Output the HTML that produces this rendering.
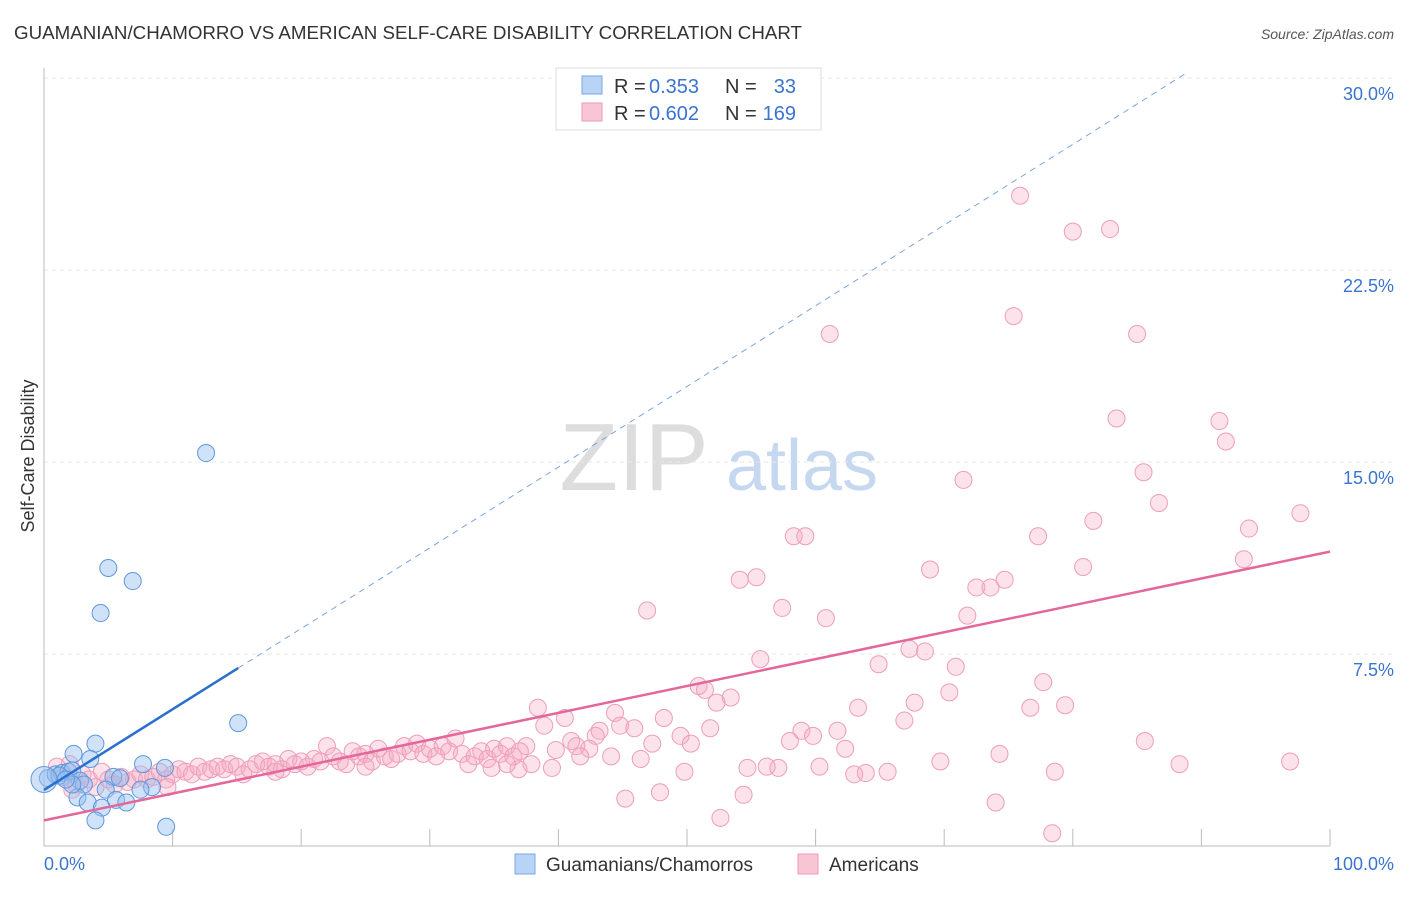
<!DOCTYPE html>
<html><head><meta charset="utf-8"><style>
body{margin:0;background:#fff;font-family:"Liberation Sans",sans-serif}
svg text{font-family:"Liberation Sans",sans-serif}
</style></head><body>
<svg width="1406" height="892" viewBox="0 0 1406 892">
<text x="14" y="39" font-size="18" fill="#333" textLength="788" lengthAdjust="spacingAndGlyphs">GUAMANIAN/CHAMORRO VS AMERICAN SELF-CARE DISABILITY CORRELATION CHART</text>
<text x="1394" y="39" font-size="14" fill="#555" font-style="italic" text-anchor="end">Source: ZipAtlas.com</text>
<g><text x="634" y="490" font-size="96" font-family="Liberation Serif" fill="#ddd" text-anchor="middle">ZIP</text><text x="802" y="490" font-size="72" fill="#c5d8f0" text-anchor="middle">atlas</text></g>
<g id="grid"></g><g id="axes"></g><g id="pink"></g><g id="blue"></g><g id="lines"></g>
<text x="34" y="456" font-size="18" fill="#333" text-anchor="middle" transform="rotate(-90 34 456)">Self-Care Disability</text>
<text x="44" y="870" font-size="18" fill="#3a74d0">0.0%</text>
<text x="1394" y="870" font-size="18" fill="#3a74d0" text-anchor="end">100.0%</text>
<g>
<rect x="556" y="68" width="265" height="62" fill="#fff" stroke="#ddd"/>
<rect x="582" y="76" width="20" height="18" fill="#b8d3f5" stroke="#7aa8e0"/>
<rect x="582" y="103" width="20" height="18" fill="#f9c5d5" stroke="#eb9ab5"/>
<text x="614" y="93" font-size="20" fill="#333">R =</text><text x="649" y="93" font-size="20" fill="#3a74d0">0.353</text><text x="725" y="93" font-size="20" fill="#333">N =</text><text x="796" y="93" font-size="20" fill="#3a74d0" text-anchor="end">33</text>
<text x="614" y="120" font-size="20" fill="#333">R =</text><text x="649" y="120" font-size="20" fill="#3a74d0">0.602</text><text x="725" y="120" font-size="20" fill="#333">N =</text><text x="796" y="120" font-size="20" fill="#3a74d0" text-anchor="end">169</text>
</g>
<g>
<rect x="515" y="854" width="20" height="20" fill="#b8d3f5" stroke="#7aa8e0"/>
<text x="546" y="871" font-size="19" fill="#333">Guamanians/Chamorros</text>
<rect x="798" y="854" width="20" height="20" fill="#f9c5d5" stroke="#eb9ab5"/>
<text x="829" y="871" font-size="19" fill="#333">Americans</text>
</g>
</svg>
<script>
const yTicks=[7.5,15,22.5,30];
const yTickLabels=["7.5%","15.0%","22.5%","30.0%"];
const xTicks=[0,10,20,30,40,50,60,70,80,90,100];
const blueX=[12.6,5.0,6.9,4.4,15.1,4.0,2.3,7.7,3.6,0.3,0.9,1.4,1.9,2.2,1.2,2.8,3.1,5.4,5.9,9.4,8.4,7.5,4.8,2.6,3.4,4.5,5.6,6.4,4.0,9.5,2.2,1.7,0];
const blueY=[15.35,10.86,10.35,9.1,4.8,4.0,3.6,3.2,3.4,2.65,2.8,2.85,2.9,2.95,2.75,2.55,2.4,2.7,2.65,3.05,2.3,2.2,2.2,1.9,1.7,1.5,1.8,1.7,1.0,0.75,2.4,2.6,2.6];
const pinkX=[75.9,80.0,82.9,61.1,75.4,85.0,83.4,91.4,91.9,85.5,71.5,86.7,97.7,81.6,93.7,58.3,59.2,77.3,93.3,68.9,80.8,54.1,55.4,72.5,73.6,74.7,46.9,57.4,60.8,71.8,67.3,68.5,55.7,64.9,70.9,77.7,50.9,51.4,53.4,52.3,70.4,67.7,63.3,76.7,79.4,38.4,44.4,66.9,40.5,48.2,38.9,44.8,51.8,45.9,58.9,61.7,43.2,42.9,49.5,59.8,58.0,85.6,47.3,50.3,41.0,41.4,39.8,37.5,42.4,62.3,74.3,41.7,44.1,46.4,88.3,96.9,69.7,60.3,56.2,57.1,54.7,37.9,39.5,34.8,36.9,63.9,63.0,65.6,49.8,78.6,45.2,47.9,54.4,74.0,52.6,78.4,
1,1.5,2,2.5,3,3.5,4,4.5,5,5.5,6,6.5,7,7.5,8,8.5,9,9.5,10,10.5,11,11.5,12,12.5,13,13.5,14,14.5,15,15.5,16,16.5,17,17.5,18,18.5,19,19.5,20,20.5,21,21.5,22,22.5,23,23.5,24,24.5,25,25.5,26,26.5,27,27.5,28,28.5,29,29.5,30,30.5,31,31.5,32,32.5,33,33.5,34,34.5,35,35.5,36,36.5,37,9.6,2.2,18,25,36];
const pinkY=[25.4,24.0,24.1,20.0,20.7,20.0,16.7,16.6,15.8,14.6,14.3,13.4,13.0,12.7,12.4,12.1,12.1,12.1,11.2,10.8,10.9,10.4,10.5,10.1,10.1,10.4,9.2,9.3,8.9,9.0,7.7,7.6,7.3,7.1,7.0,6.4,6.25,6.1,5.8,5.6,6.0,5.6,5.4,5.4,5.5,5.4,5.2,4.9,5.0,5.0,4.7,4.7,4.6,4.6,4.5,4.5,4.5,4.3,4.3,4.3,4.1,4.1,4.0,4.0,4.1,3.9,3.75,3.9,3.8,3.8,3.6,3.5,3.5,3.4,3.2,3.3,3.3,3.1,3.1,3.05,3.05,3.2,3.05,3.05,3.0,2.85,2.8,2.9,2.9,2.9,1.85,2.1,2.0,1.7,1.1,0.5,
3.1,2.7,3.2,2.4,2.8,2.6,2.3,2.9,2.6,2.4,2.7,2.5,2.6,2.8,2.6,2.7,2.9,2.6,2.8,3.0,2.9,2.8,3.1,2.9,3.0,3.1,3.0,3.2,3.1,2.8,3.0,3.2,3.3,3.1,3.2,3.0,3.4,3.2,3.3,3.1,3.4,3.3,3.9,3.5,3.3,3.2,3.7,3.5,3.6,3.3,3.8,3.5,3.4,3.6,3.9,3.7,4.0,3.6,3.8,3.5,3.9,3.7,4.2,3.6,3.2,3.5,3.7,3.4,3.8,3.6,3.9,3.5,3.7,2.3,2.2,2.9,3.1,3.2];
const blueLine=[0,2.19,15.1,6.95];
const pinkLine=[0,1.0,100,11.5];
const NS="http://www.w3.org/2000/svg";
const X=v=>44+v*12.86, Y=v=>846-v*25.6;
function mk(p,t,a){const e=document.createElementNS(NS,t);for(const k in a)e.setAttribute(k,a[k]);document.getElementById(p).appendChild(e);return e;}
yTicks.forEach((t,i)=>{
 const g=mk('grid','line',{x1:44,x2:1394,y1:Y(t),y2:Y(t),stroke:'#e6e6e6','stroke-dasharray':'4,4'});
 
 
 const l=mk('grid','text',{x:1394,y:Y(t)+22,'font-size':18,fill:'#3a74d0','text-anchor':'end'});l.textContent=yTickLabels[i];
 
 
});
const ya=mk('axes','line',{x1:44,x2:44,y1:68,y2:846,stroke:'#bbb'});


const xa=mk('axes','line',{x1:44,x2:1330,y1:846,y2:846,stroke:'#bbb'});


xTicks.forEach(t=>{const e=mk('axes','line',{x1:X(t),x2:X(t),y1:829,y2:846,stroke:'#bbb'});
 
 });
pinkX.forEach((v,i)=>{const c=mk('pink','circle',{cx:X(v),cy:Y(pinkY[i]),r:8.5,fill:'rgba(246,168,194,0.32)',stroke:'#ee9dba','stroke-width':1});
 
 });
blueX.forEach((v,i)=>{const c=mk('blue','circle',{cx:X(v),cy:Y(blueY[i]),r:i==32?13:8.5,fill:'rgba(150,190,240,0.45)',stroke:'#5f97de','stroke-width':1});
 
 });
const sl=(blueLine[3]-blueLine[1])/(blueLine[2]-blueLine[0]);
const xe=(30-blueLine[1])/sl+blueLine[0]+0.5;
const d=mk('lines','line',{x1:X(blueLine[2]),y1:Y(blueLine[3]),x2:X(xe),y2:Y(blueLine[1]+sl*xe),stroke:'#7aa5e0','stroke-width':1,'stroke-dasharray':'6,5'});


const b=mk('lines','line',{x1:X(blueLine[0]),y1:Y(blueLine[1]),x2:X(blueLine[2]),y2:Y(blueLine[3]),stroke:'#2a6fd0','stroke-width':2.5});


const p=mk('lines','line',{x1:X(pinkLine[0]),y1:Y(pinkLine[1]),x2:X(pinkLine[2]),y2:Y(pinkLine[3]),stroke:'#e3679b','stroke-width':2.5});


</script>
</body></html>
